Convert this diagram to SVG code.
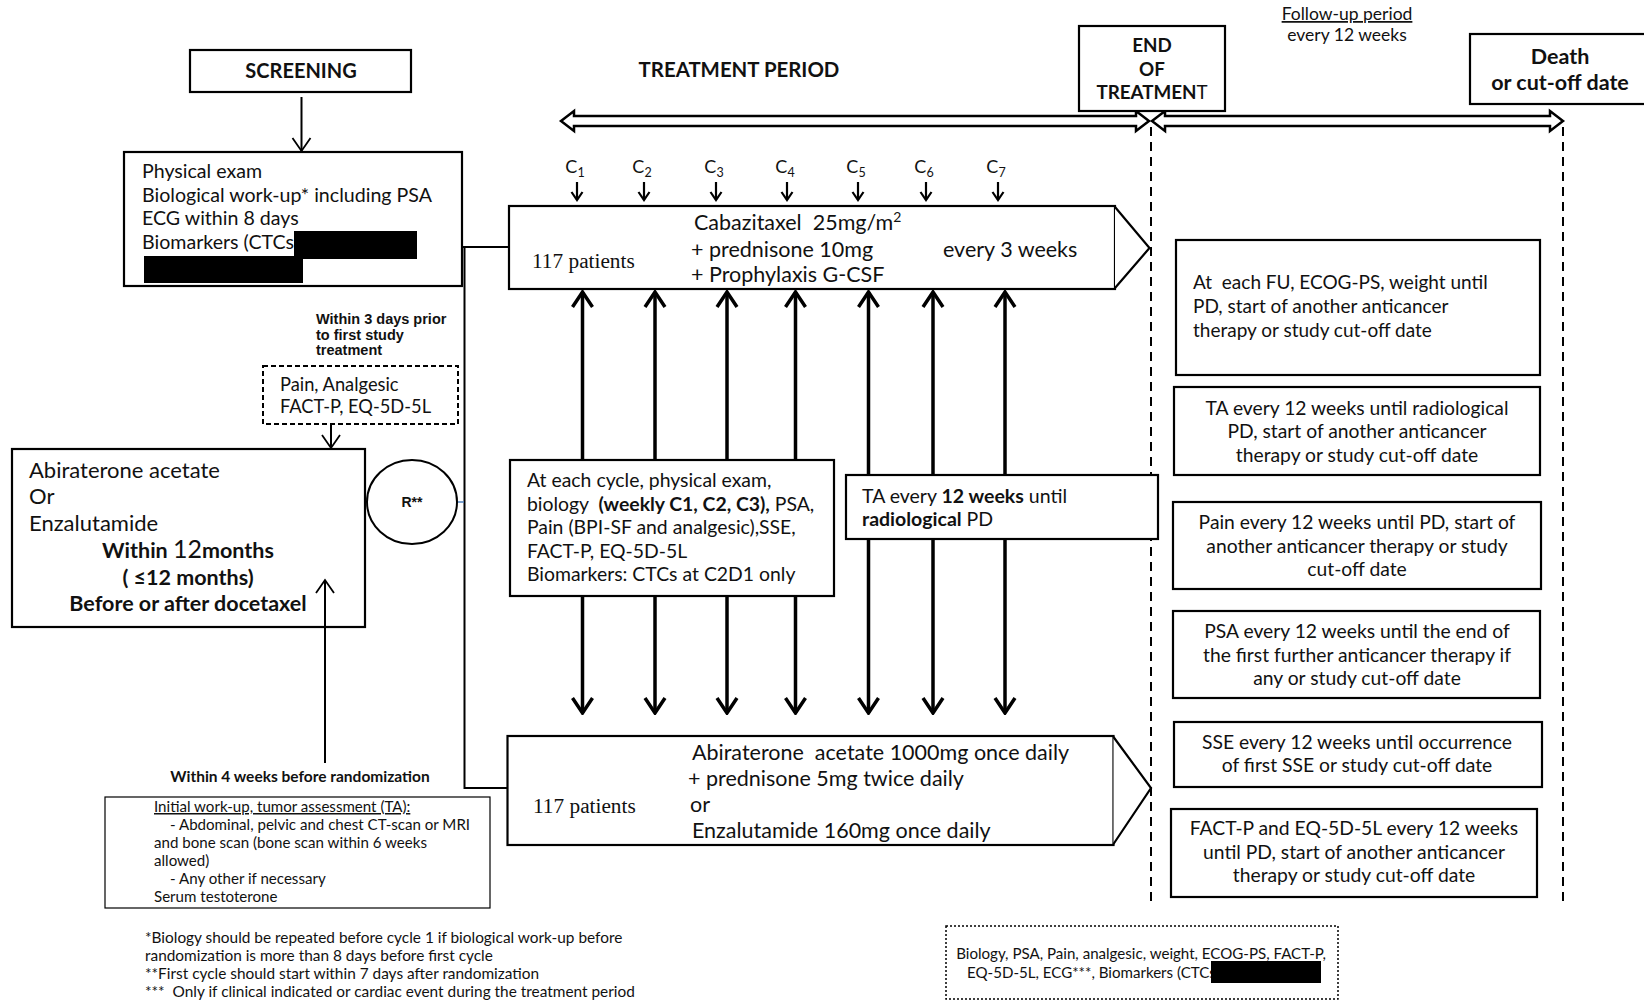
<svg xmlns="http://www.w3.org/2000/svg" width="1644" height="1000" viewBox="0 0 1644 1000">
<style>
.t{font-family:Lato,"Liberation Sans",sans-serif;fill:#111;white-space:pre}
.b{font-weight:bold}
.box{fill:#fff;stroke:#000;stroke-width:2.2}
.thin{fill:#fff;stroke:#000;stroke-width:1.2}
.ln{fill:none;stroke:#000;stroke-width:2}
.big{fill:none;stroke:#000;stroke-width:3.5}
.serif{font-family:"Liberation Serif","Times New Roman",serif;fill:#111}
.ar{font-family:"Liberation Sans",Arial,sans-serif;font-weight:bold;fill:#111}
.red{fill:#000}
.dash{fill:none;stroke:#000;stroke-width:2;stroke-dasharray:9 6}
</style>
<defs>
<marker id="vb" viewBox="-17 -12 19 24" refX="0" refY="0" markerWidth="19" markerHeight="24" markerUnits="userSpaceOnUse" orient="auto-start-reverse">
<path d="M-15,-10 L0,0 L-15,10" fill="none" stroke="#000" stroke-width="3.5"/>
</marker>
<marker id="vt" viewBox="-15 -11 17 22" refX="0" refY="0" markerWidth="17" markerHeight="22" markerUnits="userSpaceOnUse" orient="auto-start-reverse">
<path d="M-13,-9 L0,0 L-13,9" fill="none" stroke="#000" stroke-width="1.8"/>
</marker>
<marker id="vs" viewBox="-9 -7 11 14" refX="0" refY="0" markerWidth="11" markerHeight="14" markerUnits="userSpaceOnUse" orient="auto">
<path d="M-8,-5.5 L0,0 L-8,5.5" fill="none" stroke="#000" stroke-width="2.2"/>
</marker>
</defs>

<g id="connectors">
<polygon points="561,121 574,111 574,116 1136,116 1136,111 1149,121 1136,131 1136,126 574,126 574,131" fill="#fff" stroke="#000" stroke-width="2.5"/>
<polygon points="1152,121 1165,111 1165,116 1550,116 1550,111 1563,121 1550,131 1550,126 1165,126 1165,131" fill="#fff" stroke="#000" stroke-width="2.5"/>
<line class="dash" x1="1151" y1="127" x2="1151" y2="903"/>
<line class="dash" x1="1563" y1="127" x2="1563" y2="903"/>
<line class="ln" x1="301.5" y1="97" x2="301.5" y2="151" marker-end="url(#vt)"/>
<polyline class="ln" points="462,247 464.5,247 464.5,788 508,788"/>
<line x1="464.5" y1="247" x2="509" y2="247" stroke="#000" stroke-width="2"/>
<line x1="458" y1="502" x2="464" y2="502" stroke="#4f81bd" stroke-width="1.5"/>
<line class="ln" x1="331" y1="424" x2="331" y2="448" marker-end="url(#vt)"/>
<g class="big">
<line x1="582.5" y1="292" x2="582.5" y2="713" marker-start="url(#vb)" marker-end="url(#vb)"/>
<line x1="655" y1="292" x2="655" y2="713" marker-start="url(#vb)" marker-end="url(#vb)"/>
<line x1="727" y1="292" x2="727" y2="713" marker-start="url(#vb)" marker-end="url(#vb)"/>
<line x1="795.5" y1="292" x2="795.5" y2="713" marker-start="url(#vb)" marker-end="url(#vb)"/>
<line x1="868.5" y1="292" x2="868.5" y2="713" marker-start="url(#vb)" marker-end="url(#vb)"/>
<line x1="933" y1="292" x2="933" y2="713" marker-start="url(#vb)" marker-end="url(#vb)"/>
<line x1="1005" y1="292" x2="1005" y2="713" marker-start="url(#vb)" marker-end="url(#vb)"/>
</g>
<g stroke="#000" stroke-width="2.2" fill="none">
<line x1="577" y1="182" x2="577" y2="200" marker-end="url(#vs)"/>
<line x1="644" y1="182" x2="644" y2="200" marker-end="url(#vs)"/>
<line x1="716" y1="182" x2="716" y2="200" marker-end="url(#vs)"/>
<line x1="787" y1="182" x2="787" y2="200" marker-end="url(#vs)"/>
<line x1="858" y1="182" x2="858" y2="200" marker-end="url(#vs)"/>
<line x1="926" y1="182" x2="926" y2="200" marker-end="url(#vs)"/>
<line x1="998" y1="182" x2="998" y2="200" marker-end="url(#vs)"/>
</g>
</g>

<g id="screening">
<rect class="box" x="190" y="50" width="221" height="42"/>
<text class="t b" x="301" y="78" font-size="20" text-anchor="middle">SCREENING</text>
</g>

<g id="treatment-period-label">
<text class="t b" x="739" y="77" font-size="20.4" text-anchor="middle">TREATMENT PERIOD</text>
</g>

<g id="end-of-treatment">
<rect class="box" x="1079" y="26" width="146" height="85"/>
<text class="t b" x="1152" y="52" font-size="18.8" text-anchor="middle">END</text>
<text class="t b" x="1152" y="76" font-size="18.8" text-anchor="middle">OF</text>
<text class="t b" x="1152" y="99" font-size="18.8" text-anchor="middle">TREATMEN<tspan font-weight="normal">T</tspan></text>
</g>

<g id="follow-up-label">
<text class="t" x="1347" y="20" font-size="17.5" text-anchor="middle" text-decoration="underline">Follow-up period</text>
<text class="t" x="1347" y="41" font-size="17.5" text-anchor="middle">every 12 weeks</text>
</g>

<g id="death">
<rect class="box" x="1470" y="34" width="180" height="70"/>
<text class="t b" x="1560" y="64" font-size="21.5" text-anchor="middle">Death</text>
<text class="t b" x="1560" y="90" font-size="21.5" text-anchor="middle">or cut-off date</text>
</g>

<g id="cycles">
<g class="t" font-size="18" text-anchor="middle">
<text x="575" y="173">C<tspan font-size="12.5" dy="4">1</tspan></text>
<text x="642" y="173">C<tspan font-size="12.5" dy="4">2</tspan></text>
<text x="714" y="173">C<tspan font-size="12.5" dy="4">3</tspan></text>
<text x="785" y="173">C<tspan font-size="12.5" dy="4">4</tspan></text>
<text x="856" y="173">C<tspan font-size="12.5" dy="4">5</tspan></text>
<text x="924" y="173">C<tspan font-size="12.5" dy="4">6</tspan></text>
<text x="996" y="173">C<tspan font-size="12.5" dy="4">7</tspan></text>
</g>
</g>

<g id="screening-exams">
<rect class="box" x="124" y="152" width="338" height="134"/>
<g class="t" font-size="19.6">
<text x="142" y="178">Physical exam</text>
<text x="142" y="202">Biological work-up* including PSA</text>
<text x="142" y="225">ECG within 8 days</text>
<text x="142" y="249">Biomarkers (CTCs</text>
</g>
<rect class="red" x="294" y="231" width="123" height="28"/>
<rect class="red" x="144" y="256" width="159" height="27"/>
</g>

<g id="cabazitaxel-arm">
<rect class="box" x="509" y="206" width="606" height="83"/>
<polyline class="box" fill="none" points="1115,207 1149.5,248 1115,288"/>
<text class="serif" x="532" y="268" font-size="21.3">117 patients</text>
<g class="t" font-size="21.5">
<text x="694" y="230" xml:space="preserve">Cabazitaxel  25mg/m<tspan font-size="14" dy="-8">2</tspan></text>
<text x="691" y="257">+ prednisone 10mg</text>
<text x="691" y="282">+ Prophylaxis G-CSF</text>
<text x="943" y="257">every 3 weeks</text>
</g>
</g>

<g id="pre-treatment-note">
<text class="ar" font-size="14.5" x="316" y="324">Within 3 days prior</text>
<text class="ar" font-size="14.5" x="316" y="340">to first study</text>
<text class="ar" font-size="14.5" x="316" y="355">treatment</text>
</g>

<g id="pain-baseline">
<rect x="263" y="366" width="195" height="58" fill="#fff" stroke="#000" stroke-width="2" stroke-dasharray="5 3"/>
<text class="t" x="280" y="391" font-size="18.3">Pain, Analgesic</text>
<text class="t" x="280" y="413" font-size="18.3">FACT-P, EQ-5D-5L</text>
</g>

<g id="prior-treatment">
<rect class="box" x="12" y="449" width="353" height="178"/>
<g class="t" font-size="22">
<text x="29" y="478">Abiraterone acetate</text>
<text x="29" y="504">Or</text>
<text x="29" y="531">Enzalutamide</text>
</g>
<g class="t b" font-size="21.5" text-anchor="middle">
<text x="188" y="558">Within <tspan font-weight="normal" font-size="25">12</tspan>months</text>
<text x="188" y="585">( ≤12 months)</text>
<text x="188" y="611">Before or after docetaxel</text>
</g>
</g>

<g id="randomization">
<ellipse cx="412" cy="502" rx="45" ry="42" fill="#fff" stroke="#000" stroke-width="2"/>
<text class="ar" x="412" y="507" font-size="14" text-anchor="middle">R**</text>
</g>

<g id="cycle-assessments">
<rect class="box" x="510" y="460" width="324" height="136"/>
<g class="t" font-size="19.4">
<text x="527" y="487">At each cycle, physical exam,</text>
<text x="527" y="510.5" xml:space="preserve">biology  <tspan font-weight="bold">(weekly C1, C2, C3),</tspan> PSA,</text>
<text x="527" y="534">Pain (BPI-SF and analgesic),SSE,</text>
<text x="527" y="557.5">FACT-P, EQ-5D-5L</text>
<text x="527" y="581">Biomarkers: CTCs at C2D1 only</text>
</g>
</g>

<g id="ta-treatment">
<rect class="box" x="846" y="475" width="312" height="64"/>
<text class="t" x="862" y="503" font-size="19.5">TA every <tspan font-weight="bold">12 weeks</tspan> until</text>
<text class="t" x="862" y="526" font-size="19.5"><tspan font-weight="bold">radiological</tspan> PD</text>
</g>

<g id="control-arm">
<rect class="box" x="507.5" y="736" width="606" height="109"/>
<polyline class="box" fill="none" points="1113.5,737 1151,788 1113.5,844"/>
<text class="serif" x="533" y="813" font-size="21.3">117 patients</text>
<g class="t" font-size="21.5">
<text x="692" y="760" xml:space="preserve">Abiraterone  acetate 1000mg once daily</text>
<text x="688" y="786">+ prednisone 5mg twice daily</text>
<text x="690" y="812">or</text>
<text x="692" y="838">Enzalutamide 160mg once daily</text>
</g>
</g>

<g id="fu-ecog">
<rect class="box" x="1176" y="240" width="364" height="135"/>
<g class="t" font-size="19">
<text x="1193" y="289" xml:space="preserve">At  each FU, ECOG-PS, weight until</text>
<text x="1193" y="313">PD, start of another anticancer</text>
<text x="1193" y="337">therapy or study cut-off date</text>
</g>
</g>

<g id="fu-ta">
<rect class="box" x="1174" y="387" width="366" height="88"/>
<g class="t" font-size="19.3" text-anchor="middle">
<text x="1357" y="415">TA every 12 weeks until radiological</text>
<text x="1357" y="438">PD, start of another anticancer</text>
<text x="1357" y="462">therapy or study cut-off date</text>
</g>
</g>

<g id="fu-pain">
<rect class="box" x="1173" y="502" width="368" height="87"/>
<g class="t" font-size="19.3" text-anchor="middle">
<text x="1357" y="529">Pain every 12 weeks until PD, start of</text>
<text x="1357" y="553">another anticancer therapy or study</text>
<text x="1357" y="576">cut-off date</text>
</g>
</g>

<g id="fu-psa">
<rect class="box" x="1173" y="611" width="367" height="87"/>
<g class="t" font-size="19.3" text-anchor="middle">
<text x="1357" y="638">PSA every 12 weeks until the end of</text>
<text x="1357" y="662">the first further anticancer therapy if</text>
<text x="1357" y="685">any or study cut-off date</text>
</g>
</g>

<g id="fu-sse">
<rect class="box" x="1174" y="722" width="368" height="65"/>
<g class="t" font-size="19.3" text-anchor="middle">
<text x="1357" y="749">SSE every 12 weeks until occurrence</text>
<text x="1357" y="772">of first SSE or study cut-off date</text>
</g>
</g>

<g id="fu-qol">
<rect class="box" x="1171" y="809" width="366" height="88"/>
<g class="t" font-size="19.3" text-anchor="middle">
<text x="1354" y="835">FACT-P and EQ-5D-5L every 12 weeks</text>
<text x="1354" y="859">until PD, start of another anticancer</text>
<text x="1354" y="882">therapy or study cut-off date</text>
</g>
</g>

<g id="initial-workup">
<text class="t b" x="300" y="782" font-size="15.5" text-anchor="middle">Within 4 weeks before randomization</text>
<rect class="thin" x="105" y="797" width="385" height="111"/>
<g class="t" font-size="15.1">
<text x="154" y="812" text-decoration="underline">Initial work-up, tumor assessment (TA):</text>
<text x="170" y="830">- Abdominal, pelvic and chest CT-scan or MRI</text>
<text x="154" y="848">and bone scan (bone scan within 6 weeks</text>
<text x="154" y="866">allowed)</text>
<text x="170" y="884">- Any other if necessary</text>
<text x="154" y="902">Serum testoterone</text>
</g>
</g>

<g id="footnotes">
<g class="t" font-size="15.4">
<text x="145" y="943">*Biology should be repeated before cycle 1 if biological work-up before</text>
<text x="145" y="961">randomization is more than 8 days before first cycle</text>
<text x="145" y="979">**First cycle should start within 7 days after randomization</text>
<text x="145" y="997" xml:space="preserve">***  Only if clinical indicated or cardiac event during the treatment period</text>
</g>
</g>

<g id="end-of-treatment-assessments">
<rect x="946" y="926" width="392" height="73" fill="#fff" stroke="#000" stroke-width="1.5" stroke-dasharray="2 2"/>
<text class="t" x="1141" y="959" font-size="15.1" text-anchor="middle">Biology, PSA, Pain, analgesic, weight, ECOG-PS, FACT-P,</text>
<text class="t" x="967" y="978" font-size="15.1">EQ-5D-5L, ECG***, Biomarkers (CTCs</text>
<rect class="red" x="1211" y="961" width="110" height="22"/>
</g>

<g id="connectors-front">
<line class="ln" x1="325" y1="763" x2="325" y2="580" marker-end="url(#vt)"/>
</g>
</svg>
